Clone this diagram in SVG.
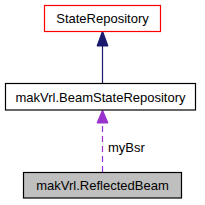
<svg xmlns="http://www.w3.org/2000/svg" width="205" height="205" viewBox="0 0 205 205">
<style>
text{font-family:"Liberation Sans",Arial,sans-serif;font-size:13px;fill:#000}
.box{stroke-width:1.2}
</style>
<rect width="205" height="205" fill="#fff"/>
<g id="connectors">
<g id="e1">
<line x1="102.5" y1="83" x2="102.5" y2="45" stroke="#191970" stroke-width="1.2"/>
<polygon points="102.5,31 97,46 108,46" fill="#191970" stroke="#191970"/>
</g>
<g id="e2">
<line x1="102.5" y1="172" x2="102.5" y2="122" stroke="#9a32cd" stroke-width="1.2" stroke-dasharray="6,4"/>
<polygon points="102.5,110 97,123 108,123" fill="#9a32cd" stroke="#9a32cd"/>
<text x="108" y="152">myBsr</text>
</g>
</g>
<g id="StateRepository">
<rect class="box" x="44.5" y="5.5" width="116" height="26" fill="#fff" stroke="#ff0000"/>
<text x="102.5" y="23" text-anchor="middle">StateRepository</text>
</g>
<g id="BeamStateRepository">
<rect class="box" x="5.5" y="83.5" width="190" height="26.5" fill="#fff" stroke="#000"/>
<text x="100.5" y="101.5" text-anchor="middle">makVrl.BeamStateRepository</text>
</g>
<g id="ReflectedBeam">
<rect class="box" x="23.5" y="172.5" width="158" height="25.5" fill="#bfbfbf" stroke="#000"/>
<text x="102.5" y="190" text-anchor="middle">makVrl.ReflectedBeam</text>
</g>
</svg>
